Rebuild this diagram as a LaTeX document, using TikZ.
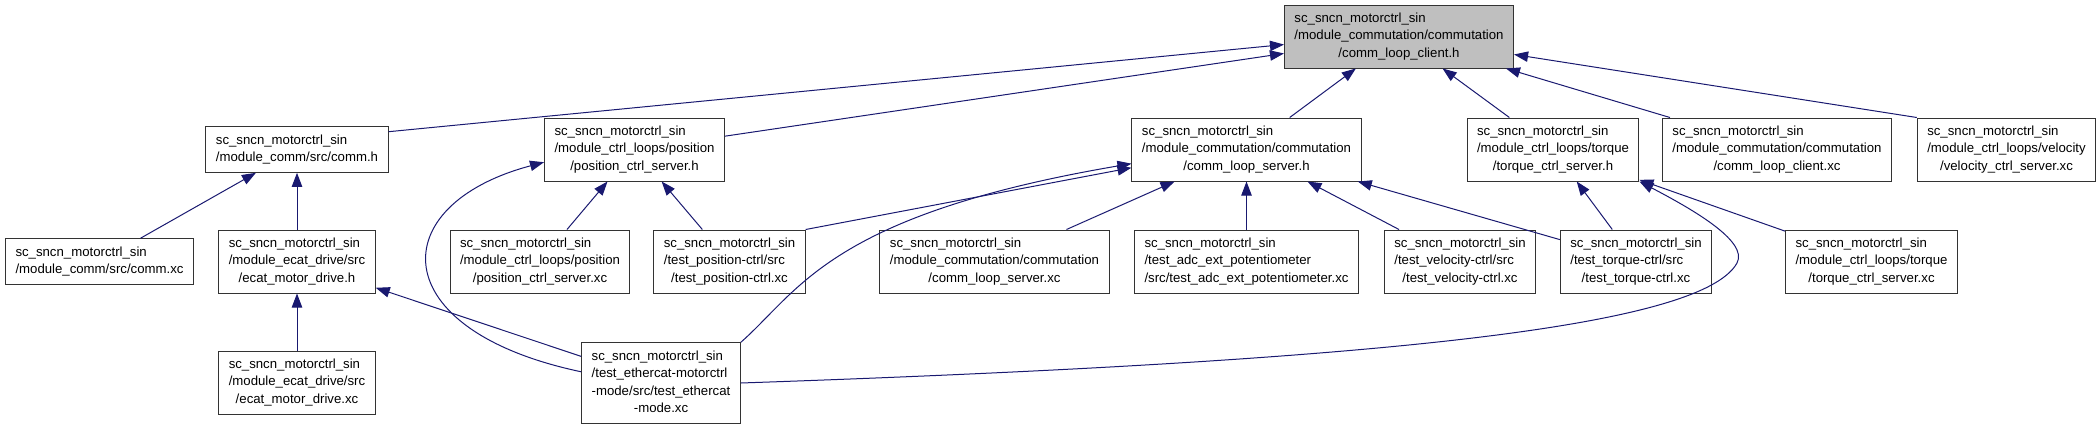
\documentclass[tikz,border=0pt]{standalone}
\usepackage{fontspec}
\setmainfont{Liberation Sans}
\usetikzlibrary{arrows.meta}
\definecolor{edgeblue}{RGB}{25,25,112}
\newcommand{\fpath}[2]{\begin{tabular}{@{}l@{}}#1\\\multicolumn{1}{@{}c@{}}{#2}\end{tabular}}

\begin{document}
\begin{tikzpicture}[
  x=0.5pt, y=-0.5pt,
  >={Triangle[length=7pt,width=5.2pt]},
  file/.style={draw=black!80, line width=0.5pt, fill=white, inner xsep=5pt, inner ysep=2.7pt, font=\fontsize{6.6}{8.7}\selectfont},
  hfile/.style={file, fill=gray!50},
  line/.style={->, draw=edgeblue, line width=0.5pt}
]
\useasboundingbox (0,0) rectangle (2100,429);

% Top (the header itself)
\node[hfile] (client) at (1399,36.5) {\fpath{sc\_sncn\_motorctrl\_sin\\/module\_commutation/commutation}{/comm\_loop\_client.h}};

% Row 1
\node[file] (commh)   at (297,149.5)  {\fpath{sc\_sncn\_motorctrl\_sin}{/module\_comm/src/comm.h}};
\node[file] (posh)    at (634.5,149.5) {\fpath{sc\_sncn\_motorctrl\_sin\\/module\_ctrl\_loops/position}{/position\_ctrl\_server.h}};
\node[file] (clsh)    at (1246.5,149.5) {\fpath{sc\_sncn\_motorctrl\_sin\\/module\_commutation/commutation}{/comm\_loop\_server.h}};
\node[file] (torqueh) at (1553,149.5) {\fpath{sc\_sncn\_motorctrl\_sin\\/module\_ctrl\_loops/torque}{/torque\_ctrl\_server.h}};
\node[file] (clxc)    at (1777,149.5) {\fpath{sc\_sncn\_motorctrl\_sin\\/module\_commutation/commutation}{/comm\_loop\_client.xc}};
\node[file] (velxc)   at (2006.5,149.5) {\fpath{sc\_sncn\_motorctrl\_sin\\/module\_ctrl\_loops/velocity}{/velocity\_ctrl\_server.xc}};

% Row 2
\node[file] (commxc)     at (99.5,261.5)  {\fpath{sc\_sncn\_motorctrl\_sin}{/module\_comm/src/comm.xc}};
\node[file] (ecath)      at (297,261.5)   {\fpath{sc\_sncn\_motorctrl\_sin\\/module\_ecat\_drive/src}{/ecat\_motor\_drive.h}};
\node[file] (posxc)      at (540,261.5)   {\fpath{sc\_sncn\_motorctrl\_sin\\/module\_ctrl\_loops/position}{/position\_ctrl\_server.xc}};
\node[file] (testpos)    at (729.5,261.5) {\fpath{sc\_sncn\_motorctrl\_sin\\/test\_position-ctrl/src}{/test\_position-ctrl.xc}};
\node[file] (clsxc)      at (994.5,261.5) {\fpath{sc\_sncn\_motorctrl\_sin\\/module\_commutation/commutation}{/comm\_loop\_server.xc}};
\node[file] (adc)        at (1246.5,261.5) {\fpath{sc\_sncn\_motorctrl\_sin\\/test\_adc\_ext\_potentiometer}{/src/test\_adc\_ext\_potentiometer.xc}};
\node[file] (testvel)    at (1460,261.5)  {\fpath{sc\_sncn\_motorctrl\_sin\\/test\_velocity-ctrl/src}{/test\_velocity-ctrl.xc}};
\node[file] (testtorque) at (1636,261.5)  {\fpath{sc\_sncn\_motorctrl\_sin\\/test\_torque-ctrl/src}{/test\_torque-ctrl.xc}};
\node[file] (torquexc)   at (1871.5,261.5) {\fpath{sc\_sncn\_motorctrl\_sin\\/module\_ctrl\_loops/torque}{/torque\_ctrl\_server.xc}};

% Row 3
\node[file] (ecatxc)   at (297,382.5) {\fpath{sc\_sncn\_motorctrl\_sin\\/module\_ecat\_drive/src}{/ecat\_motor\_drive.xc}};
\node[file] (ethercat) at (661,383)   {\fpath{sc\_sncn\_motorctrl\_sin\\/test\_ethercat-motorctrl\\-mode/src/test\_ethercat}{-mode.xc}};

% Edges into the header
\draw[line] (commh.11) -- (client.184);
\draw[line] (posh) -- (client);
\draw[line] (clsh) -- (client);
\draw[line] (torqueh) -- (client);
\draw[line] (clxc) -- (client);
\draw[line] (velxc.north west) -- (client);

% Edges into row 1
\draw[line] (commxc) -- (commh);
\draw[line] (ecath) -- (commh);
\draw[line] (posxc) -- (posh);
\draw[line] (testpos) -- (posh);
\draw[line] (testpos.north east) -- (clsh.189);
\draw[line] (clsxc) -- (clsh);
\draw[line] (adc) -- (clsh);
\draw[line] (testvel) -- (clsh);
\draw[line] (testtorque) -- (clsh);
\draw[line] (testtorque) -- (torqueh);
\draw[line] (torquexc) -- (torqueh);

% Edges from row 3
\draw[line] (ecatxc) -- (ecath);
\draw[line] (ethercat) -- (ecath);
\draw[line] (ethercat.172) .. controls (383,330) and (383,205) .. (posh.188);
\draw[line] (ethercat.north east) .. controls (800,290) and (830,215) .. (clsh.187);
\draw[line] (ethercat.east) .. controls (1350,362) and (1700,330) .. (1737,263) .. controls (1749,241) and (1690,208) .. (torqueh.south east);

\end{tikzpicture}
\end{document}
